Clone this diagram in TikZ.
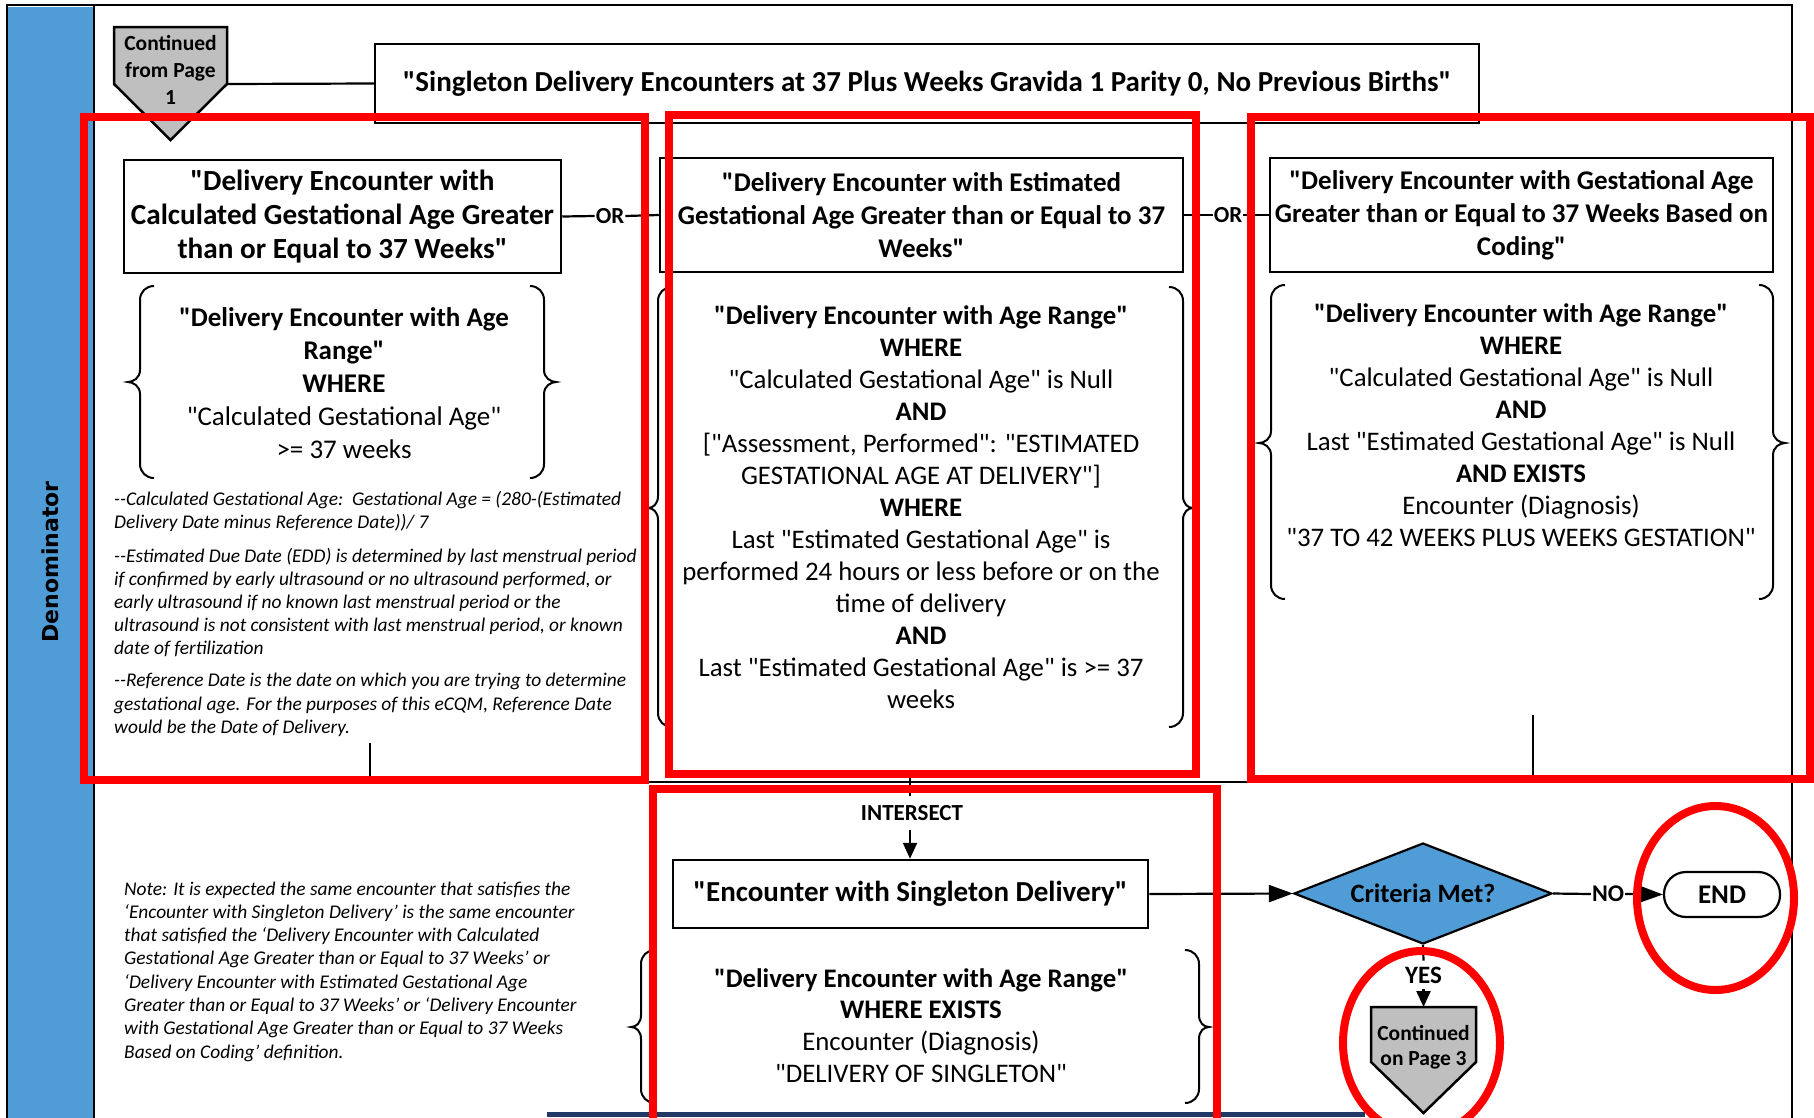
\documentclass[tikz,border=0pt]{standalone}
\usepackage{fontspec}
\newfontfamily\carl{Carlito}
\newfontfamily\dejavub{DejaVu Sans}
\usetikzlibrary{shapes.geometric,arrows.meta}
\definecolor{laneblue}{RGB}{80,156,214}
\definecolor{contgray}{RGB}{191,191,191}
\definecolor{navybar}{RGB}{31,56,100}
\definecolor{hlred}{RGB}{255,0,0}
\newcommand\setfs[2]{\fontsize{#1}{#2}\selectfont}
\newcommand\bracepair[6]{% xl xr top bottom mid tip
  \draw[brc] (#1+14,#3) .. controls (#1+6,#3) and (#1,#3+6) .. (#1,#3+14)
     -- (#1,#5-12) .. controls (#1,#5-4) and (#1-#6+5,#5) .. (#1-#6,#5)
     .. controls (#1-#6+5,#5) and (#1,#5+4) .. (#1,#5+12)
     -- (#1,#4-14) .. controls (#1,#4-6) and (#1+6,#4) .. (#1+14,#4);
  \draw[brc] (#2-14,#3) .. controls (#2-6,#3) and (#2,#3+6) .. (#2,#3+14)
     -- (#2,#5-12) .. controls (#2,#5-4) and (#2+#6-5,#5) .. (#2+#6,#5)
     .. controls (#2+#6-5,#5) and (#2,#5+4) .. (#2,#5+12)
     -- (#2,#4-14) .. controls (#2,#4-6) and (#2-6,#4) .. (#2-14,#4);
}
\tikzset{
  frameline/.style={line width=2pt},
  box/.style={draw, line width=2.5pt, inner sep=0pt, align=center, fill=white},
  conn/.style={line width=2.2pt},
  arr/.style={conn, -{Triangle[length=24pt,width=17pt]}},
  sarr/.style={conn, -{Triangle[length=16pt,width=14pt]}},
  brc/.style={line width=2pt},
  body/.style={align=center, inner sep=0pt, font=\setfs{26.8}{32}},
  note/.style={align=left, inner sep=0pt, anchor=west, font=\itshape\setfs{19.4}{23.2}},
  hl/.style={draw=hlred, line width=8pt},
  lbl/.style={inner sep=1pt, font=\bfseries\setfs{23}{27}},
  contshape/.style={fill=contgray, draw, line width=2.5pt},
  conttext/.style={align=center, inner sep=0pt, font=\bfseries\setfs{21.5}{27}},
}
\begin{document}
\carl
\begin{tikzpicture}[x=1pt,y=-1pt]
\useasboundingbox (0,0) rectangle (1814,1117);
% frame and lane
\fill[laneblue] (7,7) rectangle (94,1120);
\draw[frameline] (7,1120) -- (7,5) -- (1792,5) -- (1792,1120);
\draw[line width=2.5pt] (94,5) -- (94,1120);
\draw[frameline] (94,782) -- (1792,782);
\fill[navybar] (547,1112) rectangle (1365,1117);
\node[rotate=90, inner sep=0pt, font=\dejavub\bfseries\setfs{22}{26}] (lane) at (50,562) {Denominator};

% continued from page 1
\draw[contshape] (114,27) -- (227,27) -- (227,84) -- (170.5,140) -- (114,84) -- cycle;
\node[conttext] (cont1) at (170.5,70) {Continued\\from Page\\1};
\coordinate (c1r) at (227,84);

% title
\node[box, minimum width=1104pt, minimum height=79pt, font=\bfseries\setfs{29}{34}] (title) at (927,83.5)
  {"Singleton Delivery Encounters at 37 Plus Weeks Gravida 1 Parity 0, No Previous Births"};
\draw[conn] (c1r) -- (title.west);

% header boxes
\node[box, minimum width=437pt, minimum height=113pt, font=\bfseries\setfs{29.2}{34}] (box1) at (342.5,216.5)
  {"Delivery Encounter with\\Calculated Gestational Age Greater\\than or Equal to 37 Weeks"};
\node[box, minimum width=523pt, minimum height=114pt, font=\bfseries\setfs{27}{33}] (box2) at (921.5,215)
  {"Delivery Encounter with Estimated\\Gestational Age Greater than or Equal to 37\\Weeks"};
\node[box, minimum width=503pt, minimum height=114pt, font=\bfseries\setfs{27}{33}] (box3) at (1521.5,215)
  {"Delivery Encounter with Gestational Age\\Greater than or Equal to 37 Weeks Based on\\Coding"};
\node[lbl] (or1) at (610,216) {OR};
\node[lbl] (or2) at (1228,215) {OR};
\draw[conn] (box1.east) -- (or1.west);
\draw[conn] (or1.east) -- (box2.west);
\draw[conn] (box2.east) -- (or2.west);
\draw[conn] (or2.east) -- (box3.west);

% column bodies
\bracepair{140}{544}{286}{478}{382}{12}
\node[body, font=\setfs{27}{33}] (b1) at (344,383)
  {\textbf{"Delivery Encounter with Age}\\\textbf{Range"}\\\textbf{WHERE}\\"Calculated Gestational Age"\\>= 37 weeks};
\bracepair{658}{1183}{287}{727}{508}{10}
\node[body] (b2) at (921,507.5)
  {\textbf{"Delivery Encounter with Age Range"}\\\textbf{WHERE}\\"Calculated Gestational Age" is Null\\\textbf{AND}\\{}%
   {[}"Assessment, Performed": "ESTIMATED\\GESTATIONAL AGE AT DELIVERY"{]}\\\textbf{WHERE}\\%
   Last "Estimated Gestational Age" is\\performed 24 hours or less before or on the\\time of delivery\\\textbf{AND}\\%
   Last "Estimated Gestational Age" is >= 37\\weeks};
\bracepair{1271}{1773}{285}{599}{443}{12}
\node[body] (b3) at (1521,425.5)
  {\textbf{"Delivery Encounter with Age Range"}\\\textbf{WHERE}\\"Calculated Gestational Age" is Null\\\textbf{AND}\\%
   Last "Estimated Gestational Age" is Null\\\textbf{AND EXISTS}\\Encounter (Diagnosis)\\"37 TO 42 WEEKS PLUS WEEKS GESTATION"};

% notes
\node[note] (n1) at (114,511.5) {--Calculated Gestational Age:\ \ Gestational Age = (280-(Estimated\\Delivery Date minus Reference Date))/ 7};
\node[note] (n2) at (114,602.5) {--Estimated Due Date (EDD) is determined by last menstrual period\\if confirmed by early ultrasound or no ultrasound performed, or\\early ultrasound if no known last menstrual period or the\\ultrasound is not consistent with last menstrual period, or known\\date of fertilization};
\node[note] (n3) at (114,705) {--Reference Date is the date on which you are trying to determine\\gestational age. For the purposes of this eCQM, Reference Date\\would be the Date of Delivery.};
\node[note, font=\itshape\setfs{19.4}{23.3}] (n4) at (124,971.5) {Note: It is expected the same encounter that satisfies the\\‘Encounter with Singleton Delivery’ is the same encounter\\that satisfied the ‘Delivery Encounter with Calculated\\Gestational Age Greater than or Equal to 37 Weeks’ or\\‘Delivery Encounter with Estimated Gestational Age\\Greater than or Equal to 37 Weeks’ or ‘Delivery Encounter\\with Gestational Age Greater than or Equal to 37 Weeks\\Based on Coding’ definition.};

% column stubs
\coordinate (c1b) at (370,743);
\coordinate (d1) at (370,782);
\coordinate (c3b) at (1533,715);
\coordinate (d3) at (1533,782);
\draw[conn] (c1b) -- (d1);
\draw[conn] (c3b) -- (d3);

% intersect
\coordinate (c2b) at (910,778);
\node[inner xsep=1pt, inner ysep=9pt, font=\bfseries\setfs{23}{26}] (isect) at (912,813) {INTERSECT};
\node[box, minimum width=475pt, minimum height=68pt, font=\bfseries\setfs{29}{34}] (single) at (910.5,894) {"Encounter with Singleton Delivery"};
\draw[conn] (c2b) -- (c2b |- isect.north);
\draw[sarr] (c2b |- isect.south) -- (c2b |- single.north);
\bracepair{641}{1199}{950}{1103}{1027}{10}
\node[body, font=\setfs{26.8}{31.7}] (b4) at (921,1025.5)
  {\textbf{"Delivery Encounter with Age Range"}\\\textbf{WHERE EXISTS}\\Encounter (Diagnosis)\\"DELIVERY OF SINGLETON"};

% decision
\node[diamond, aspect=2.55, draw, fill=laneblue, line width=2.2pt, inner sep=0pt, minimum width=258pt, minimum height=101pt, font=\bfseries\setfs{26.5}{30}] (dia) at (1423,893.5) {Criteria Met?};
\draw[arr] (single.east) -- (dia.west);
\node[lbl, font=\bfseries\setfs{24}{28}] (no) at (1608,894) {NO};
\node[draw, line width=2.2pt, rounded corners=22pt, minimum width=116pt, minimum height=45pt, inner sep=0pt, font=\bfseries\setfs{27}{30}] (endn) at (1722,894.5) {END};
\draw[conn] (dia.east) -- (no.west);
\draw[arr] (no.east) -- (endn.west);
\node[inner xsep=1pt, inner ysep=6pt, font=\bfseries\setfs{25}{28}] (yes) at (1423.5,975) {YES};
\draw[contshape] (1371,1007) -- (1476,1007) -- (1476,1062) -- (1423.5,1113) -- (1371,1062) -- cycle;
\node[conttext, font=\bfseries\setfs{21.5}{25}] (cont3) at (1423.5,1047.5) {Continued\\on Page 3};
\coordinate (c3t) at (1423.5,1007);
\draw[conn] (dia.south) -- (yes.north);
\draw[sarr] (yes.south) -- (c3t);

% red highlights
\draw[hl] (84,117) rectangle (645,780);
\draw[hl] (669,115) rectangle (1196,774);
\draw[hl] (1251,117) rectangle (1810,779);
\draw[hl] (653,789) rectangle (1217,1125);
\draw[hl] (1715.5,898) ellipse [x radius=78.5, y radius=92];
\draw[hl] (1421.5,1043) ellipse [x radius=78.5, y radius=92];
\end{tikzpicture}
\end{document}
